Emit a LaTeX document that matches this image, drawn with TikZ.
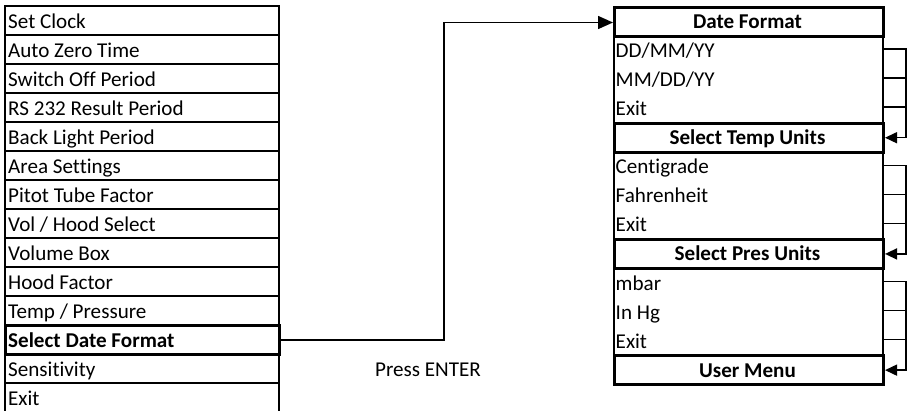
\documentclass[tikz,border=0pt]{standalone}
\usepackage{fontspec}
\setmainfont{Carlito}[Ligatures=NoCommon]
\usetikzlibrary{arrows.meta,calc}
\begin{document}
\begin{tikzpicture}[x=1pt,y=-1pt,
  every node/.style={font=\fontsize{21.1}{24}\selectfont},
  leftrow/.style={draw,line width=1.6pt,rectangle,anchor=north west,minimum width=274pt,minimum height=29pt,inner sep=0pt},
  selrow/.style={leftrow,line width=3pt},
  headbox/.style={draw,line width=3pt,rectangle,anchor=north west,minimum width=269pt,minimum height=29.05pt,inner sep=0pt},
  headtext/.style={anchor=base,inner sep=0pt,font=\fontsize{21.1}{24}\selectfont\bfseries},
  itembox/.style={draw,line width=1.6pt,rectangle,anchor=north west,minimum width=269pt,minimum height=87.15pt,inner sep=0pt},
  rowtext/.style={anchor=base west,inner sep=0pt},
  conn/.style={line width=1.5pt},
  bigtip/.style={-{Triangle[length=15pt,width=13pt]}},
  smalltip/.style={-{Triangle[length=12pt,width=11pt]}}
]
\useasboundingbox (0,0) rectangle (909,410);
% left list
\foreach \t [count=\i from 0] in {Set Clock,Auto Zero Time,Switch Off Period,RS 232 Result Period,Back Light Period,Area Settings,Pitot Tube Factor,Vol / Hood Select,Volume Box,Hood Factor,Temp / Pressure,{},Sensitivity,Exit}{
  \ifnum\i=11\else
  \node[leftrow] (r\i) at (4,{5+\i*29}) {};
  \node[rowtext] (t\i) at (8,{5+(\i+1)*29-6}) {\t};
  \fi
}
\node[selrow] (sdf) at (4,{5+11*29}) {};
\node[rowtext,font=\fontsize{21.1}{24}\selectfont\bfseries] (sdft) at (8,{5+12*29-6}) {Select Date Format};
% right column
\def\rt{5.5}\def\rh{29.05}\def\rx{613}
\node[headbox] (dfhead) at (\rx,{\rt+0*\rh}) {};
\node[itembox] (dfbox) at (\rx,{\rt+1*\rh}) {};
\node[headbox] (tuhead) at (\rx,{\rt+4*\rh}) {};
\node[itembox] (tubox) at (\rx,{\rt+5*\rh}) {};
\node[headbox] (puhead) at (\rx,{\rt+8*\rh}) {};
\node[itembox] (pubox) at (\rx,{\rt+9*\rh}) {};
\node[headbox] (umhead) at (\rx,{\rt+12*\rh}) {};
\node[headtext] (dfht) at ({\rx+134.5},{\rt+1*\rh-6}) {Date Format};
\node[headtext] (tuht) at ({\rx+134.5},{\rt+5*\rh-6}) {Select Temp Units};
\node[headtext] (puht) at ({\rx+134.5},{\rt+9*\rh-6}) {Select Pres Units};
\node[headtext] (umht) at ({\rx+134.5},{\rt+13*\rh-6}) {User Menu};
\node[rowtext] (dd) at ({\rx+2.5},{\rt+2*\rh-6}) {DD/MM/YY};
\node[rowtext] (mm) at ({\rx+2.5},{\rt+3*\rh-6}) {MM/DD/YY};
\node[rowtext] (dfx) at ({\rx+2.5},{\rt+4*\rh-6}) {Exit};
\node[rowtext] (cg) at ({\rx+2.5},{\rt+6*\rh-6}) {Centigrade};
\node[rowtext] (fh) at ({\rx+2.5},{\rt+7*\rh-6}) {Fahrenheit};
\node[rowtext] (tux) at ({\rx+2.5},{\rt+8*\rh-6}) {Exit};
\node[rowtext] (mb) at ({\rx+2.5},{\rt+10*\rh-6}) {mbar};
\node[rowtext] (ih) at ({\rx+2.5},{\rt+11*\rh-6}) {In Hg};
\node[rowtext] (pux) at ({\rx+2.5},{\rt+12*\rh-6}) {Exit};
% row centre coordinates for the loop lines
\foreach \n/\k in {c1/1.5,c2/2.5,c3/3.5,c5/5.5,c6/6.5,c7/7.5,c9/9.5,c10/10.5,c11/11.5}
  \coordinate (\n) at ({\rx+269},{\rt+\k*\rh});
% press enter
\node (press) at (428,370) {Press ENTER};
% main connector
\coordinate (bend) at (444,22.5);
\draw[conn,bigtip] (sdf.east) -| (bend) -- (dfhead.west |- bend);
% loops
\foreach \a/\b/\c/\h in {c1/c2/c3/tuhead, c5/c6/c7/puhead, c9/c10/c11/umhead}{
  \draw[conn,smalltip] (\a) -- ++(24,0) |- (\h.east);
  \draw[conn] (\b) -- ++(24,0);
  \draw[conn] (\c) -- ++(24,0);
}
\end{tikzpicture}
\end{document}
